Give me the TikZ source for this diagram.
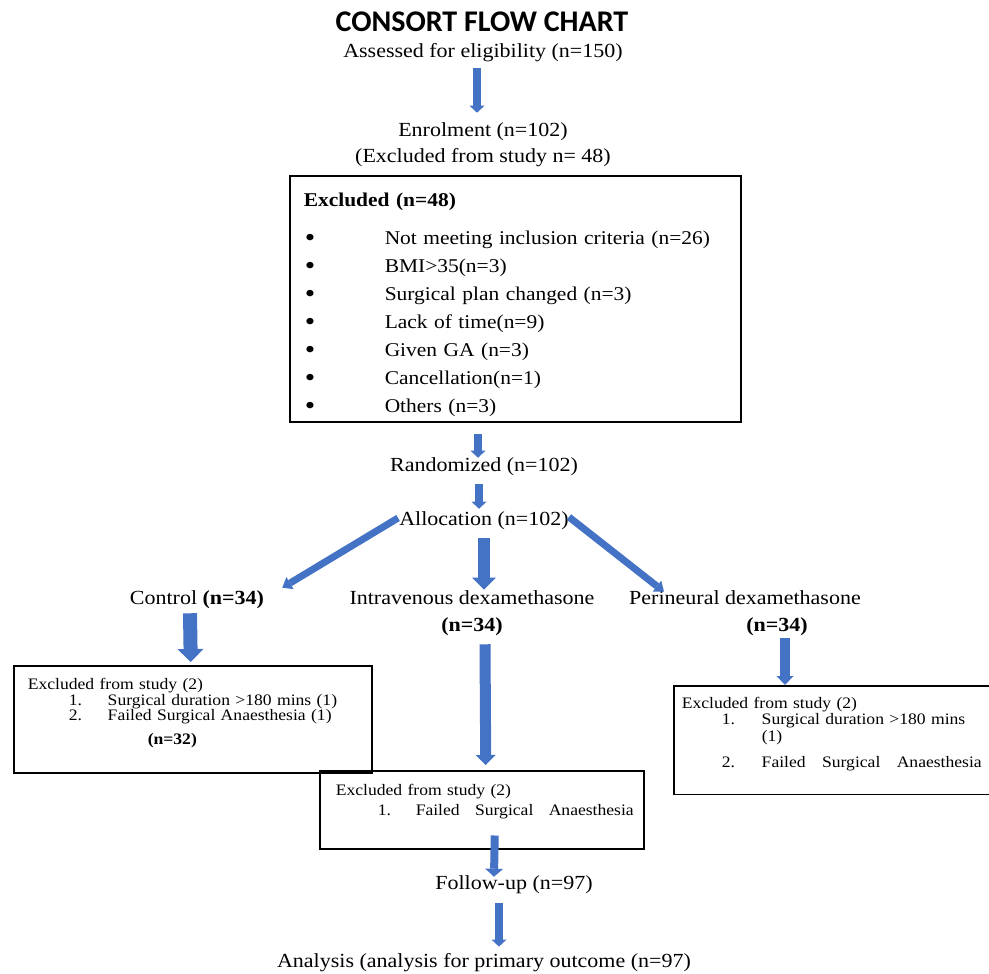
\documentclass[tikz,border=0pt]{standalone}
\usepackage{fontspec}
\setmainfont{Liberation Serif}[FakeStretch=1.1]
\newfontfamily\headfont{Carlito}
\usepackage{tikz}
\usetikzlibrary{arrows.meta}
\definecolor{cfBlue}{HTML}{4472C4}
\newcommand\flowsize{\fontsize{20}{26}\selectfont}
\newcommand\listsize{\fontsize{19.5}{28}\selectfont}
\newcommand\exitem{\hspace*{1pt}\makebox[80pt][l]{\raisebox{-1.5pt}[0pt][0pt]{\fontsize{27}{28}\selectfont\textbullet}}}
\tikzset{
  flow text/.style={inner sep=0pt,font=\flowsize,align=center},
  list box/.style={draw=black,line width=1.5pt,anchor=north west,align=left,
    text width=423pt,inner xsep=14pt,inner ysep=9pt,font=\listsize},
  note box/.style={draw=black,line width=1.5pt,anchor=north west,align=left,
    inner ysep=0pt},
  thin arrow/.style={draw=cfBlue,line width=8pt,
    -{Triangle[width=15pt,length=7pt,line width=0pt]}},
  slant arrow/.style={draw=cfBlue,line width=7pt,
    -{Triangle[width=14pt,length=9pt,line width=0pt]}},
  block arrow/.style={draw=cfBlue,line width=12pt,
    -{Triangle[width=24pt,length=12pt,line width=0pt]}}
}
\begin{document}
\begin{tikzpicture}[x=1pt,y=-1pt]
\useasboundingbox (0,0) rectangle (989,974);
% top of the chart
\node[flow text,font=\headfont\bfseries\fontsize{30}{31}\selectfont] (title) at (482,22) {CONSORT FLOW CHART};
\node[flow text] (assess) at (483,53) {Assessed for eligibility (n=150)};
\node[flow text] (enrol) at (483,145) {Enrolment (n=102)\\(Excluded from study n= 48)};
\node[list box] (excl) at (289,175) {%
  \rule{0pt}{22pt}\textbf{Excluded (n=48)}\\[10pt]
  \exitem Not meeting inclusion criteria (n=26)\\
  \exitem BMI>35(n=3)\\
  \exitem Surgical plan changed (n=3)\\
  \exitem Lack of time(n=9)\\
  \exitem Given GA (n=3)\\
  \exitem Cancellation(n=1)\\
  \exitem \smash{Others (n=3)}};
\node[flow text] (random) at (484,467) {Randomized (n=102)};
\node[flow text] (alloc) at (484,521) {Allocation (n=102)};
% the three arms
\node[flow text] (control) at (197,600) {Control \textbf{(n=34)}};
\node[flow text,font=\fontsize{20}{27}\selectfont] (iv) at (472,613.5) {Intravenous dexamethasone\\\textbf{(n=34)}};
\node[flow text,font=\fontsize{20}{27}\selectfont] (peri) at (745,613.5) {Perineural dexamethasone\\\hspace*{64pt}\textbf{(n=34)}};
\node[note box,minimum width=358pt,minimum height=107pt,text width=330pt,inner xsep=14pt,
  font=\fontsize{16}{15.5}\selectfont] (ctlbox) at (13,665) {%
  Excluded from study (2)\\
  \mbox{\hspace*{41pt}\makebox[39pt][l]{1.}Surgical duration >180 mins (1)}\\
  \mbox{\hspace*{41pt}\makebox[39pt][l]{2.}Failed Surgical Anaesthesia (1)}\\[8.5pt]
  \hspace*{120pt}\textbf{(n=32)}\\
  \mbox{}};
\node[note box,minimum width=324pt,minimum height=78pt,text width=292pt,inner xsep=16pt,
  font=\fontsize{16}{20}\selectfont] (ivbox) at (319,770) {%
  Excluded from study (2)\\
  \mbox{\hspace*{42pt}\makebox[38pt][l]{1.}Failed\hspace{10pt} Surgical\hspace{10pt} Anaesthesia}\\
  \mbox{}};
% this box runs off the right edge
\node[note box,draw=none,minimum width=314pt,minimum height=107pt,text width=300pt,inner xsep=7pt,
  font=\fontsize{16}{16.5}\selectfont] (peribox) at (674,686) {%
  Excluded from study (2)\\
  \mbox{\hspace*{40pt}\makebox[40pt][l]{1.}Surgical duration >180 mins}\\
  \hspace*{80pt}(1)\\[9.5pt]
  \mbox{\hspace*{40pt}\makebox[40pt][l]{2.}Failed\hspace{11pt} Surgical\hspace{11pt} Anaesthesia}\\
  \mbox{}};
\draw[line width=1.5pt] (peribox.north east) -- (peribox.north west)
  -- (peribox.south west) -- (peribox.south east);
\node[flow text] (followup) at (514,885) {Follow-up (n=97)};
\node[flow text] (analysis) at (484,963) {Analysis (analysis for primary outcome (n=97)};
% arrows
\draw[thin arrow] ([shift={(-6,6)}]assess.south) -- ([shift={(-6,-10)}]enrol.north);
\draw[thin arrow] ([shift={(189,11)}]excl.south west) -- ([shift={(-6,0)}]random.north);
\draw[thin arrow] ([shift={(-5,8)}]random.south) -- ([shift={(-5,-3)}]alloc.north);
\draw[slant arrow] ([shift={(-1,-3)}]alloc.west) -- ([shift={(18,-3)}]control.north east);
\draw[block arrow] ([shift={(0,8)}]alloc.south) -- ([shift={(12,-1)}]iv.north);
\draw[slant arrow] ([shift={(0,-4)}]alloc.east) -- ([shift={(35,1)}]peri.north west);
\draw[block arrow,line width=14pt,-{Triangle[width=26pt,length=13pt,line width=0pt]}]
  ([shift={(-7,4)}]control.south) -- ([shift={(-2,-3)}]ctlbox.north);
\draw[block arrow,line width=11pt,-{Triangle[width=20pt,length=10pt,line width=0pt]}]
  ([shift={(13,8)}]iv.south) -- ([shift={(4,-5)}]ivbox.north);
\draw[block arrow,line width=10pt,-{Triangle[width=17pt,length=9pt,line width=0pt]}]
  ([shift={(40,2)}]peri.south) -- ([shift={(111,-1)}]peribox.north west);
\draw[thin arrow,-{Triangle[width=18pt,length=8pt,line width=0pt]}]
  ([shift={(13,-14)}]ivbox.south) -- ([shift={(-20,1)}]followup.north);
\draw[thin arrow] ([shift={(-15,9)}]followup.south) -- ([shift={(15,-7)}]analysis.north);
\end{tikzpicture}
\end{document}
